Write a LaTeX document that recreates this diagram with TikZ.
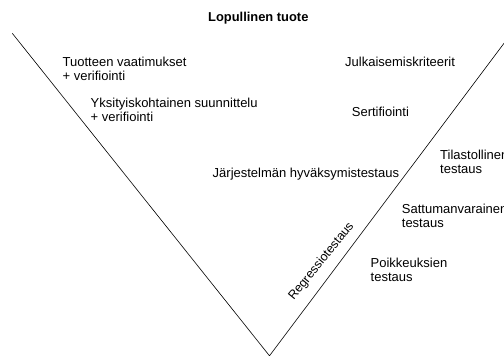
\documentclass[tikz,border=0pt]{standalone}
\usepackage{fontspec}
\setmainfont{Liberation Sans}
\begin{document}
\begin{tikzpicture}[x=1pt,y=-1pt,
  lbl/.style={anchor=base west,align=left,inner sep=0pt,
    font=\fontsize{13}{14}\selectfont},
  edge/.style={draw=black,line width=0.6pt}]
\useasboundingbox (0,0) rectangle (504,356);
\clip (0,0) rectangle (504,356);
% the V: two sides meeting at the bottom
\coordinate (ltop) at (12.3,33.3);
\coordinate (vtx) at (269.5,355.8);
\coordinate (rtop) at (521.5,20);
\draw[edge] (ltop) -- (vtx) -- (rtop);
% title
\node[anchor=base,inner sep=0pt,font=\fontsize{12.9}{14}\selectfont\bfseries]
  (title) at (258.3,21.7) {Lopullinen tuote};
% left side labels (two-line nodes are placed by their last baseline)
\node[lbl] (req) at (62.5,80.3) {Tuotteen vaatimukset\\+ verifiointi};
\node[lbl] (design) at (90.5,121) {Yksityiskohtainen suunnittelu\\+ verifiointi};
% right side labels
\node[lbl] (release) at (345,66.5) {Julkaisemiskriteerit};
\node[lbl] (cert) at (351.7,116) {Sertifiointi};
\node[lbl] (accept) at (212.5,177.5) {Järjestelmän hyväksymistestaus};
\node[lbl] (stat) at (440,173) {Tilastollinen\\testaus};
\node[lbl] (random) at (401.7,227.5) {Sattumanvarainen\\testaus};
\node[lbl] (except) at (370.5,281.5) {Poikkeuksien\\testaus};
% label running along the right side
\node[inner sep=0pt,rotate=51,font=\fontsize{12.4}{13}\selectfont]
  (regr) at (321.5,261.5) {Regressiotestaus};
\end{tikzpicture}
\end{document}
